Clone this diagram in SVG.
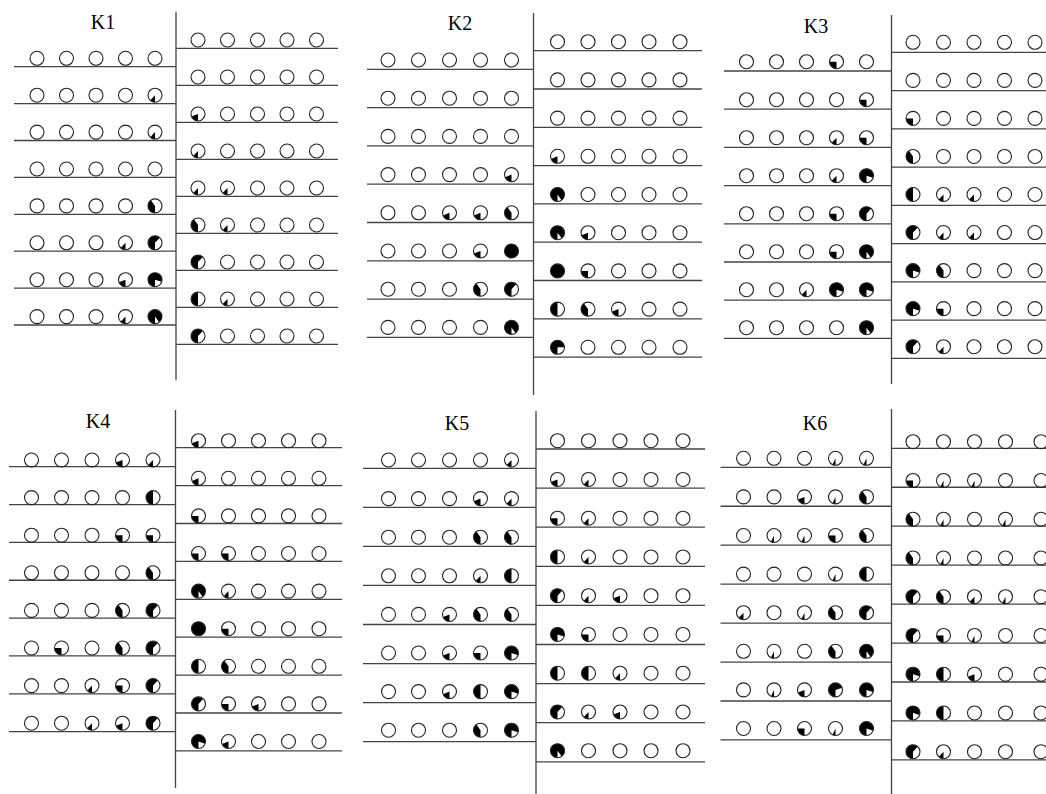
<svg xmlns="http://www.w3.org/2000/svg" width="1046" height="794" viewBox="0 0 1046 794">
<style>
.c{fill:none;stroke:#222;stroke-width:1.1}
.ln{fill:none;stroke:#444;stroke-width:1.3}
.t{font-family:"Liberation Serif","Times New Roman",serif;font-size:20px;text-anchor:middle;fill:#000}
</style>
<defs>
<path id="a" d="M0 0V7A7 7 0 0 1 -2.98 6.33Z"/>
<path id="b" d="M0 0V7A7 7 0 0 1 -4.79 5.1Z"/>
<path id="c" d="M0 0V7A7 7 0 0 1 -6.51 2.58Z"/>
<path id="q" d="M0 0V7A7 7 0 0 1 -7 0Z"/>
<path id="t" d="M0 0V7A7 7 0 0 1 -4.11 -5.66Z"/>
<path id="h" d="M0 0V7A7 7 0 0 1 0 -7Z"/>
<path id="u" d="M0 0V7A7 7 0 1 1 4.79 -5.1Z"/>
<path id="v" d="M0 0V7A7 7 0 1 1 6.66 -2.16Z"/>
<path id="z" d="M0 0V7A7 7 0 1 1 7 0Z"/>
<path id="w" d="M0 0V7A7 7 0 1 1 6.66 2.16Z"/>
<path id="x" d="M0 0V7A7 7 0 1 1 4.11 5.66Z"/>
<circle id="F" r="7"/>
<g id="r1L"><circle cx="37" r="7"/><circle cx="66.5" r="7"/><circle cx="96" r="7"/><circle cx="125.5" r="7"/><circle cx="155" r="7"/></g>
<g id="r1R"><circle cx="198" r="7"/><circle cx="227.5" r="7"/><circle cx="257.5" r="7"/><circle cx="287" r="7"/><circle cx="316.5" r="7"/></g>
<g id="r2L"><circle cx="388" r="7"/><circle cx="418.5" r="7"/><circle cx="449.5" r="7"/><circle cx="480.5" r="7"/><circle cx="511.5" r="7"/></g>
<g id="r2R"><circle cx="557.5" r="7"/><circle cx="588" r="7"/><circle cx="618.5" r="7"/><circle cx="649" r="7"/><circle cx="680" r="7"/></g>
<g id="r3L"><circle cx="746.5" r="7"/><circle cx="776.5" r="7"/><circle cx="806.5" r="7"/><circle cx="836.5" r="7"/><circle cx="866.5" r="7"/></g>
<g id="r3R"><circle cx="913" r="7"/><circle cx="943.5" r="7"/><circle cx="974" r="7"/><circle cx="1004.5" r="7"/><circle cx="1035" r="7"/></g>
<g id="r4L"><circle cx="31.5" r="7"/><circle cx="61.5" r="7"/><circle cx="92" r="7"/><circle cx="122.5" r="7"/><circle cx="153" r="7"/></g>
<g id="r4R"><circle cx="198.5" r="7"/><circle cx="228.5" r="7"/><circle cx="258.5" r="7"/><circle cx="288.5" r="7"/><circle cx="319" r="7"/></g>
<g id="r5L"><circle cx="388.5" r="7"/><circle cx="418.5" r="7"/><circle cx="449.5" r="7"/><circle cx="480.5" r="7"/><circle cx="511.5" r="7"/></g>
<g id="r5R"><circle cx="557.5" r="7"/><circle cx="588.5" r="7"/><circle cx="620" r="7"/><circle cx="651" r="7"/><circle cx="683" r="7"/></g>
<g id="r6L"><circle cx="743.5" r="7"/><circle cx="774" r="7"/><circle cx="804.5" r="7"/><circle cx="835.5" r="7"/><circle cx="866.5" r="7"/></g>
<g id="r6R"><circle cx="913" r="7"/><circle cx="943.5" r="7"/><circle cx="974.5" r="7"/><circle cx="1005.5" r="7"/><circle cx="1041" r="7"/></g>
</defs>
<rect width="1046" height="794" fill="#fff"/>

<g id="connectors">
<path class="ln" d="M176 12V380M14 66.7H176M14 103.6H176M14 140.5H176M14 177.4H176M14 214.3H176M14 251.2H176M14 288.1H176M14 325H176M176 48.3H338M176 85.3H338M176 122.3H338M176 159.3H338M176 196.3H338M176 233.3H338M176 270.3H338M176 307.3H338M176 344.3H338"/>
<path class="ln" d="M533.5 13V395M367 69.3H533.5M367 107.6H533.5M367 145.9H533.5M367 184.2H533.5M367 222.5H533.5M367 260.8H533.5M367 299.1H533.5M367 337.4H533.5M533.5 50.7H702M533.5 89H702M533.5 127.3H702M533.5 165.6H702M533.5 203.9H702M533.5 242.2H702M533.5 280.5H702M533.5 318.8H702M533.5 357.1H702"/>
<path class="ln" d="M891.5 15V384M724 71H891.5M724 109.2H891.5M724 147.4H891.5M724 185.6H891.5M724 223.8H891.5M724 262H891.5M724 300.2H891.5M724 338.4H891.5M891.5 52.3H1046M891.5 90.55H1046M891.5 128.8H1046M891.5 167.05H1046M891.5 205.3H1046M891.5 243.55H1046M891.5 281.8H1046M891.5 320.05H1046M891.5 358.3H1046"/>
<path class="ln" d="M175.5 410V788M9 466.7H175.5M9 504.55H175.5M9 542.4H175.5M9 580.25H175.5M9 618.1H175.5M9 655.95H175.5M9 693.8H175.5M9 731.65H175.5M175.5 447.7H342M175.5 485.6H342M175.5 523.5H342M175.5 561.4H342M175.5 599.3H342M175.5 637.2H342M175.5 675.1H342M175.5 713H342M175.5 750.9H342"/>
<path class="ln" d="M536 411V794M363 468.3H536M363 507.35H536M363 546.4H536M363 585.45H536M363 624.5H536M363 663.55H536M363 702.6H536M363 741.65H536M536 449H705M536 488.1H705M536 527.2H705M536 566.3H705M536 605.4H705M536 644.5H705M536 683.6H705M536 722.7H705M536 761.8H705"/>
<path class="ln" d="M891.5 409V794M720.5 467.3H891.5M720.5 506.25H891.5M720.5 545.2H891.5M720.5 584.15H891.5M720.5 623.1H891.5M720.5 662.05H891.5M720.5 701H891.5M720.5 739.95H891.5M891.5 448.3H1046M891.5 487.25H1046M891.5 526.2H1046M891.5 565.15H1046M891.5 604.1H1046M891.5 643.05H1046M891.5 682H1046M891.5 720.95H1046M891.5 759.9H1046"/>
</g>

<g id="K1">
<text class="t" x="103" y="29">K1</text>
<use href="#b" x="155" y="95.2"/><use href="#b" x="155" y="132.1"/><use href="#t" x="155" y="205.9"/><use href="#b" x="125.5" y="242.8"/><use href="#u" x="155" y="242.8"/><use href="#c" x="125.5" y="279.7"/><use href="#w" x="155" y="279.7"/><use href="#b" x="125.5" y="316.6"/><use href="#x" x="155" y="316.6"/>
<use href="#c" x="198" y="114"/><use href="#b" x="198" y="151"/><use href="#b" x="198" y="188"/><use href="#b" x="227.5" y="188"/><use href="#t" x="198" y="225"/><use href="#b" x="227.5" y="225"/><use href="#u" x="198" y="262"/><use href="#h" x="198" y="299"/><use href="#b" x="227.5" y="299"/><use href="#u" x="198" y="336"/>
<use class="c" href="#r1L" y="58.3"/><use class="c" href="#r1L" y="95.2"/><use class="c" href="#r1L" y="132.1"/><use class="c" href="#r1L" y="169"/><use class="c" href="#r1L" y="205.9"/><use class="c" href="#r1L" y="242.8"/><use class="c" href="#r1L" y="279.7"/><use class="c" href="#r1L" y="316.6"/>
<use class="c" href="#r1R" y="40"/><use class="c" href="#r1R" y="77"/><use class="c" href="#r1R" y="114"/><use class="c" href="#r1R" y="151"/><use class="c" href="#r1R" y="188"/><use class="c" href="#r1R" y="225"/><use class="c" href="#r1R" y="262"/><use class="c" href="#r1R" y="299"/><use class="c" href="#r1R" y="336"/>
</g>

<g id="K2">
<text class="t" x="460" y="30">K2</text>
<use href="#c" x="511.5" y="174.6"/><use href="#c" x="449.5" y="212.8"/><use href="#c" x="480.5" y="212.8"/><use href="#t" x="511.5" y="212.8"/><use href="#c" x="480.5" y="251"/><use href="#F" x="511.5" y="251"/><use href="#t" x="480.5" y="289.2"/><use href="#u" x="511.5" y="289.2"/><use href="#x" x="511.5" y="327.4"/>
<use href="#c" x="557.5" y="156.3"/><use href="#x" x="557.5" y="194.5"/><use href="#x" x="557.5" y="232.7"/><use href="#c" x="588" y="232.7"/><use href="#F" x="557.5" y="270.9"/><use href="#q" x="588" y="270.9"/><use href="#h" x="557.5" y="309.1"/><use href="#t" x="588" y="309.1"/><use href="#c" x="618.5" y="309.1"/><use href="#z" x="557.5" y="347.3"/>
<use class="c" href="#r2L" y="60"/><use class="c" href="#r2L" y="98.2"/><use class="c" href="#r2L" y="136.4"/><use class="c" href="#r2L" y="174.6"/><use class="c" href="#r2L" y="212.8"/><use class="c" href="#r2L" y="251"/><use class="c" href="#r2L" y="289.2"/><use class="c" href="#r2L" y="327.4"/>
<use class="c" href="#r2R" y="41.7"/><use class="c" href="#r2R" y="79.9"/><use class="c" href="#r2R" y="118.1"/><use class="c" href="#r2R" y="156.3"/><use class="c" href="#r2R" y="194.5"/><use class="c" href="#r2R" y="232.7"/><use class="c" href="#r2R" y="270.9"/><use class="c" href="#r2R" y="309.1"/><use class="c" href="#r2R" y="347.3"/>
</g>

<g id="K3">
<text class="t" x="816" y="33">K3</text>
<use href="#q" x="836.5" y="61.7"/><use href="#q" x="866.5" y="99.7"/><use href="#b" x="836.5" y="137.7"/><use href="#q" x="866.5" y="137.7"/><use href="#b" x="836.5" y="175.7"/><use href="#w" x="866.5" y="175.7"/><use href="#q" x="836.5" y="213.7"/><use href="#u" x="866.5" y="213.7"/><use href="#q" x="836.5" y="251.7"/><use href="#x" x="866.5" y="251.7"/><use href="#b" x="806.5" y="289.7"/><use href="#w" x="836.5" y="289.7"/><use href="#w" x="866.5" y="289.7"/><use href="#x" x="866.5" y="327.7"/>
<use href="#q" x="913" y="118.4"/><use href="#t" x="913" y="156.45"/><use href="#h" x="913" y="194.5"/><use href="#b" x="943.5" y="194.5"/><use href="#b" x="974" y="194.5"/><use href="#u" x="913" y="232.55"/><use href="#b" x="943.5" y="232.55"/><use href="#b" x="974" y="232.55"/><use href="#w" x="913" y="270.6"/><use href="#t" x="943.5" y="270.6"/><use href="#w" x="913" y="308.65"/><use href="#q" x="943.5" y="308.65"/><use href="#u" x="913" y="346.7"/><use href="#b" x="943.5" y="346.7"/>
<use class="c" href="#r3L" y="61.7"/><use class="c" href="#r3L" y="99.7"/><use class="c" href="#r3L" y="137.7"/><use class="c" href="#r3L" y="175.7"/><use class="c" href="#r3L" y="213.7"/><use class="c" href="#r3L" y="251.7"/><use class="c" href="#r3L" y="289.7"/><use class="c" href="#r3L" y="327.7"/>
<use class="c" href="#r3R" y="42.3"/><use class="c" href="#r3R" y="80.35"/><use class="c" href="#r3R" y="118.4"/><use class="c" href="#r3R" y="156.45"/><use class="c" href="#r3R" y="194.5"/><use class="c" href="#r3R" y="232.55"/><use class="c" href="#r3R" y="270.6"/><use class="c" href="#r3R" y="308.65"/><use class="c" href="#r3R" y="346.7"/>
</g>

<g id="K4">
<text class="t" x="98" y="428">K4</text>
<use href="#c" x="122.5" y="460"/><use href="#b" x="153" y="460"/><use href="#h" x="153" y="497.6"/><use href="#q" x="122.5" y="535.2"/><use href="#q" x="153" y="535.2"/><use href="#t" x="153" y="572.8"/><use href="#t" x="122.5" y="610.4"/><use href="#u" x="153" y="610.4"/><use href="#q" x="61.5" y="648"/><use href="#t" x="122.5" y="648"/><use href="#u" x="153" y="648"/><use href="#b" x="92" y="685.6"/><use href="#q" x="122.5" y="685.6"/><use href="#u" x="153" y="685.6"/><use href="#b" x="92" y="723.2"/><use href="#c" x="122.5" y="723.2"/><use href="#u" x="153" y="723.2"/>
<use href="#c" x="198.5" y="440.7"/><use href="#c" x="198.5" y="478.3"/><use href="#q" x="198.5" y="515.9"/><use href="#q" x="198.5" y="553.5"/><use href="#q" x="228.5" y="553.5"/><use href="#x" x="198.5" y="591.1"/><use href="#b" x="228.5" y="591.1"/><use href="#F" x="198.5" y="628.7"/><use href="#q" x="228.5" y="628.7"/><use href="#h" x="198.5" y="666.3"/><use href="#t" x="228.5" y="666.3"/><use href="#u" x="198.5" y="703.9"/><use href="#q" x="228.5" y="703.9"/><use href="#c" x="258.5" y="703.9"/><use href="#w" x="198.5" y="741.5"/><use href="#c" x="228.5" y="741.5"/>
<use class="c" href="#r4L" y="460"/><use class="c" href="#r4L" y="497.6"/><use class="c" href="#r4L" y="535.2"/><use class="c" href="#r4L" y="572.8"/><use class="c" href="#r4L" y="610.4"/><use class="c" href="#r4L" y="648"/><use class="c" href="#r4L" y="685.6"/><use class="c" href="#r4L" y="723.2"/>
<use class="c" href="#r4R" y="440.7"/><use class="c" href="#r4R" y="478.3"/><use class="c" href="#r4R" y="515.9"/><use class="c" href="#r4R" y="553.5"/><use class="c" href="#r4R" y="591.1"/><use class="c" href="#r4R" y="628.7"/><use class="c" href="#r4R" y="666.3"/><use class="c" href="#r4R" y="703.9"/><use class="c" href="#r4R" y="741.5"/>
</g>

<g id="K5">
<text class="t" x="457" y="430">K5</text>
<use href="#b" x="511.5" y="460"/><use href="#c" x="480.5" y="498.6"/><use href="#b" x="511.5" y="498.6"/><use href="#t" x="480.5" y="537.2"/><use href="#t" x="511.5" y="537.2"/><use href="#b" x="480.5" y="575.8"/><use href="#h" x="511.5" y="575.8"/><use href="#c" x="449.5" y="614.4"/><use href="#t" x="480.5" y="614.4"/><use href="#t" x="511.5" y="614.4"/><use href="#c" x="449.5" y="653"/><use href="#q" x="480.5" y="653"/><use href="#w" x="511.5" y="653"/><use href="#c" x="449.5" y="691.6"/><use href="#h" x="480.5" y="691.6"/><use href="#w" x="511.5" y="691.6"/><use href="#t" x="480.5" y="730.2"/><use href="#w" x="511.5" y="730.2"/>
<use href="#c" x="557.5" y="479.45"/><use href="#b" x="588.5" y="479.45"/><use href="#q" x="557.5" y="518.2"/><use href="#b" x="588.5" y="518.2"/><use href="#h" x="557.5" y="556.95"/><use href="#b" x="588.5" y="556.95"/><use href="#u" x="557.5" y="595.7"/><use href="#b" x="588.5" y="595.7"/><use href="#c" x="620" y="595.7"/><use href="#w" x="557.5" y="634.45"/><use href="#q" x="588.5" y="634.45"/><use href="#h" x="557.5" y="673.2"/><use href="#h" x="588.5" y="673.2"/><use href="#b" x="620" y="673.2"/><use href="#u" x="557.5" y="711.95"/><use href="#b" x="588.5" y="711.95"/><use href="#c" x="620" y="711.95"/><use href="#x" x="557.5" y="750.7"/>
<use class="c" href="#r5L" y="460"/><use class="c" href="#r5L" y="498.6"/><use class="c" href="#r5L" y="537.2"/><use class="c" href="#r5L" y="575.8"/><use class="c" href="#r5L" y="614.4"/><use class="c" href="#r5L" y="653"/><use class="c" href="#r5L" y="691.6"/><use class="c" href="#r5L" y="730.2"/>
<use class="c" href="#r5R" y="440.7"/><use class="c" href="#r5R" y="479.45"/><use class="c" href="#r5R" y="518.2"/><use class="c" href="#r5R" y="556.95"/><use class="c" href="#r5R" y="595.7"/><use class="c" href="#r5R" y="634.45"/><use class="c" href="#r5R" y="673.2"/><use class="c" href="#r5R" y="711.95"/><use class="c" href="#r5R" y="750.7"/>
</g>

<g id="K6">
<text class="t" x="815" y="430">K6</text>
<use href="#a" x="835.5" y="458.3"/><use href="#a" x="866.5" y="458.3"/><use href="#c" x="804.5" y="496.9"/><use href="#a" x="835.5" y="496.9"/><use href="#t" x="866.5" y="496.9"/><use href="#a" x="774" y="535.5"/><use href="#a" x="804.5" y="535.5"/><use href="#q" x="835.5" y="535.5"/><use href="#t" x="866.5" y="535.5"/><use href="#a" x="835.5" y="574.1"/><use href="#h" x="866.5" y="574.1"/><use href="#b" x="743.5" y="612.7"/><use href="#a" x="804.5" y="612.7"/><use href="#t" x="835.5" y="612.7"/><use href="#u" x="866.5" y="612.7"/><use href="#a" x="774" y="651.3"/><use href="#t" x="835.5" y="651.3"/><use href="#x" x="866.5" y="651.3"/><use href="#a" x="774" y="689.9"/><use href="#c" x="804.5" y="689.9"/><use href="#v" x="835.5" y="689.9"/><use href="#w" x="866.5" y="689.9"/><use href="#q" x="804.5" y="728.5"/><use href="#a" x="835.5" y="728.5"/><use href="#w" x="866.5" y="728.5"/>
<use href="#q" x="913" y="480.45"/><use href="#a" x="943.5" y="480.45"/><use href="#a" x="974.5" y="480.45"/><use href="#t" x="913" y="519.2"/><use href="#a" x="943.5" y="519.2"/><use href="#a" x="1005.5" y="519.2"/><use href="#t" x="913" y="557.95"/><use href="#a" x="943.5" y="557.95"/><use href="#u" x="913" y="596.7"/><use href="#t" x="943.5" y="596.7"/><use href="#b" x="974.5" y="596.7"/><use href="#a" x="1005.5" y="596.7"/><use href="#u" x="913" y="635.45"/><use href="#q" x="943.5" y="635.45"/><use href="#a" x="974.5" y="635.45"/><use href="#w" x="913" y="674.2"/><use href="#h" x="943.5" y="674.2"/><use href="#c" x="974.5" y="674.2"/><use href="#w" x="913" y="712.95"/><use href="#h" x="943.5" y="712.95"/><use href="#u" x="913" y="751.7"/><use href="#b" x="943.5" y="751.7"/>
<use class="c" href="#r6L" y="458.3"/><use class="c" href="#r6L" y="496.9"/><use class="c" href="#r6L" y="535.5"/><use class="c" href="#r6L" y="574.1"/><use class="c" href="#r6L" y="612.7"/><use class="c" href="#r6L" y="651.3"/><use class="c" href="#r6L" y="689.9"/><use class="c" href="#r6L" y="728.5"/>
<use class="c" href="#r6R" y="441.7"/><use class="c" href="#r6R" y="480.45"/><use class="c" href="#r6R" y="519.2"/><use class="c" href="#r6R" y="557.95"/><use class="c" href="#r6R" y="596.7"/><use class="c" href="#r6R" y="635.45"/><use class="c" href="#r6R" y="674.2"/><use class="c" href="#r6R" y="712.95"/><use class="c" href="#r6R" y="751.7"/>
</g>
</svg>
